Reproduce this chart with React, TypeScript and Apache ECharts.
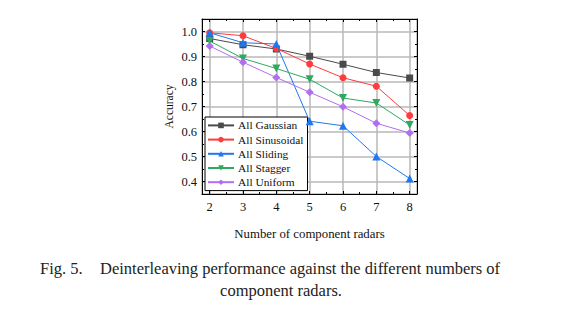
import React, { useEffect, useRef } from "react";
import * as echarts from "echarts";

const radars = [2, 3, 4, 5, 6, 7, 8];
const gaussian = [0.972, 0.947, 0.930, 0.901, 0.869, 0.836, 0.814];
const sinusoidal = [0.995, 0.983, 0.932, 0.870, 0.815, 0.781, 0.664];
const sliding = [0.995, 0.955, 0.950, 0.641, 0.623, 0.500, 0.412];
const stagger = [0.962, 0.892, 0.852, 0.809, 0.734, 0.714, 0.626];
const uniform = [0.942, 0.877, 0.816, 0.757, 0.699, 0.633, 0.594];

const seriesNames = ["All Gaussian", "All Sinusoidal", "All Sliding", "All Stagger", "All Uniform"];
const xTitle = "Number of component radars";
const yTitle = "Accuracy";
const captionLabel = "Fig. 5.";
const captionLine1 = "Deinterleaving performance against the different numbers of";
const captionLine2 = "component radars.";

const SERIF = "'Liberation Serif', 'Times New Roman', serif";

export default function App() {
  const ref = useRef<HTMLDivElement>(null);
  useEffect(() => {
    if (!ref.current) return;
    const chart = echarts.init(ref.current, undefined, { renderer: "svg" });
    const toPairs = (vals: number[]) => radars.map((x, i) => [x, vals[i]]);
    const styles = [
      { color: "#4a4a4a", symbol: "rect", size: 7, rotate: 0 },
      { color: "#ff3b3b", symbol: "circle", size: 7, rotate: 0 },
      { color: "#1f78f0", symbol: "triangle", size: 8, rotate: 0 },
      { color: "#2fa860", symbol: "triangle", size: 8, rotate: 180 },
      { color: "#b06ff0", symbol: "diamond", size: 8, rotate: 0 },
    ];
    const data = [gaussian, sinusoidal, sliding, stagger, uniform];
    const tickCommon = { show: true, inside: true, length: 3, lineStyle: { color: "#000", width: 1 } };
    const minorCommon = { show: true, splitNumber: 2, length: 2, lineStyle: { color: "#000", width: 1 } };
    const gridLine = { show: true, lineStyle: { color: "#b8b8b8", width: 1.5 } };
    const lineCommon = { show: true, lineStyle: { color: "#000", width: 1 } };
    chart.setOption({
      animation: false,
      backgroundColor: "#fff",
      textStyle: { fontFamily: SERIF },
      grid: { left: 202, top: 19, width: 215, height: 175, containLabel: false },
      xAxis: [
        {
          type: "value",
          min: 1.77,
          max: 8.22,
          splitNumber: 6,
          position: "bottom",
          axisLine: lineCommon,
          axisTick: tickCommon,
          minorTick: minorCommon,
          splitLine: gridLine,
          axisLabel: {
            showMinLabel: false,
            showMaxLabel: false,
            color: "#111",
            fontSize: 12.5,
            fontFamily: SERIF,
            margin: 6,
            formatter: (v: number) => String(Math.round(v)),
          },
          name: xTitle,
          nameLocation: "middle",
          nameGap: 33,
          nameTextStyle: { color: "#111", fontSize: 12.8, fontFamily: SERIF },
        },
        {
          type: "value",
          min: 1.77,
          max: 8.22,
          splitNumber: 6,
          position: "top",
          axisLine: lineCommon,
          axisTick: tickCommon,
          minorTick: minorCommon,
          splitLine: { show: false },
          axisLabel: { show: false },
        },
      ],
      yAxis: [
        {
          type: "value",
          min: 0.35,
          max: 1.05,
          splitNumber: 7,
          position: "left",
          axisLine: lineCommon,
          axisTick: tickCommon,
          minorTick: minorCommon,
          splitLine: gridLine,
          axisLabel: {
            showMinLabel: false,
            showMaxLabel: false,
            color: "#111",
            fontSize: 12.5,
            fontFamily: SERIF,
            margin: 5,
            formatter: (v: number) => v.toFixed(1),
          },
          name: yTitle,
          nameLocation: "middle",
          nameGap: 27,
          nameRotate: 90,
          nameTextStyle: { color: "#111", fontSize: 11.5, fontFamily: SERIF },
        },
        {
          type: "value",
          min: 0.35,
          max: 1.05,
          splitNumber: 7,
          position: "right",
          axisLine: lineCommon,
          axisTick: tickCommon,
          minorTick: minorCommon,
          splitLine: { show: false },
          axisLabel: { show: false },
        },
      ],
      legend: {
        orient: "vertical",
        left: 205,
        top: 117,
        padding: [2.4, 4, 2.4, 2],
        itemGap: 2.2,
        itemWidth: 26,
        itemHeight: 7,
        backgroundColor: "#fff",
        borderColor: "#000",
        borderWidth: 1,
        borderRadius: 0,
        textStyle: { fontFamily: SERIF, fontSize: 11.4, color: "#111", lineHeight: 12, padding: [0, 0, 0, -1] },
        data: seriesNames,
      },
      series: seriesNames.map((name, i) => ({
        name,
        type: "line",
        data: toPairs(data[i]),
        symbol: styles[i].symbol,
        symbolSize: styles[i].size,
        symbolRotate: styles[i].rotate,
        showAllSymbol: true,
        itemStyle: { color: styles[i].color },
        lineStyle: { color: styles[i].color, width: 1 },
        z: 3 + i,
      })),
      graphic: [
        {
          type: "text",
          left: 40,
          top: 260,
          style: { text: captionLabel, font: `16.5px ${SERIF}`, fill: "#222" },
        },
        {
          type: "text",
          left: 100,
          top: 260,
          style: { text: captionLine1, font: `16.5px ${SERIF}`, fill: "#222" },
        },
        {
          type: "text",
          left: "center",
          top: 282,
          style: { text: captionLine2, font: `16.5px ${SERIF}`, fill: "#222" },
        },
      ],
    });
    return () => chart.dispose();
  }, []);
  return (
    <div
      ref={ref}
      style={{ position: "fixed", left: 0, top: 0, width: 562, height: 324, background: "#fff" }}
    />
  );
}
